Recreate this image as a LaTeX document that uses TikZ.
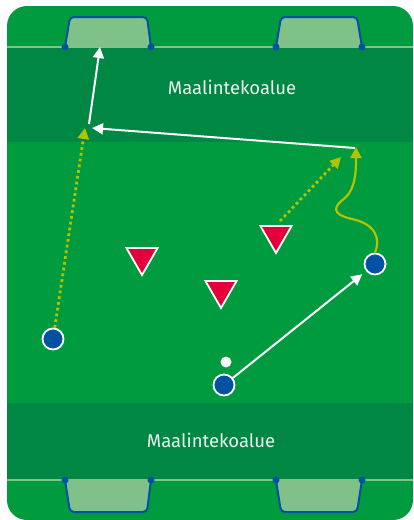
\documentclass[tikz,border=0pt]{standalone}
\usepackage{fontspec}
\setmainfont{Fira Sans}
\usetikzlibrary{arrows.meta,shapes.geometric}
\definecolor{field}{HTML}{009B3E}
\definecolor{darkzone}{HTML}{008744}
\definecolor{lineg}{HTML}{7CC68C}
\definecolor{goalfill}{HTML}{80C18A}
\definecolor{pblue}{HTML}{0051A2}
\definecolor{pred}{HTML}{E3003A}
\definecolor{pyellow}{HTML}{B2C400}
\definecolor{txt}{HTML}{EAF6EC}
\tikzset{
  player/.style={circle, fill=pblue, draw=white, line width=1.8pt, minimum size=21pt, inner sep=0pt},
  defender/.style={isosceles triangle, isosceles triangle apex angle=60, shape border rotate=270, fill=pred, draw=white, line width=1.8pt, minimum height=27pt, inner sep=0pt},
  ball/.style={circle, fill=white, minimum size=11pt, inner sep=0pt},
  pass/.style={draw=white, line width=2pt, -{Triangle[length=11pt,width=11pt]}},
  run/.style={draw=pyellow, line width=2.8pt, dash pattern=on 2.8pt off 3pt, -{Triangle[length=11pt,width=11pt]}},
  dribble/.style={draw=pyellow, line width=2.2pt, -{Triangle[length=11pt,width=11pt]}},
  goal/.style={fill=goalfill, draw=pblue, line width=2pt, rounded corners=4pt},
  post/.style={circle, fill=pblue, minimum size=7pt, inner sep=0pt},
  zonelabel/.style={text=txt, font=\fontsize{18.5}{22}\selectfont}
}
\begin{document}
\begin{tikzpicture}[x=1pt,y=-1pt]
\useasboundingbox (0,0) rectangle (413,520);
\fill[field, rounded corners=20pt] (7,6) rectangle (413,520);
\fill[darkzone] (7,48) rectangle (413,142);
\fill[darkzone] (7,403) rectangle (413,479);
\draw[lineg, line width=2.4pt] (7,46.8) -- (413,46.8);
\draw[lineg, line width=2.4pt] (7,480) -- (413,480);
% goals
\path[goal] (65,47) -- (70,17) -- (147,17) -- (151,47);
\path[goal] (276,47) -- (281,17) -- (357,17) -- (362,47);
\path[goal] (65,480) -- (70,512) -- (147,512) -- (151,480);
\path[goal] (276,480) -- (281,512) -- (357,512) -- (362,480);
\foreach \n/\x/\y in {a/65/47,b/151/47,c/276/47,d/362/47,e/65/480,f/151/480,g/276/480,h/362/480}
  \node[post] (post\n) at (\x,\y) {};
% labels
\node[zonelabel] (ztop) at (232,87) {Maalintekoalue};
\node[zonelabel] (zbot) at (211,440) {Maalintekoalue};
% defenders
\node[defender] (d1) at (142,257) {};
\node[defender] (d2) at (221,290) {};
\node[defender] (d3) at (276,235) {};
% players
\node[player] (p1) at (53,339) {};
\node[player] (p2) at (224,385) {};
\node[player] (p3) at (375,264) {};
\node[ball] (ball) at (226,362) {};
% coordinates
\coordinate (k1) at (85,128);
\coordinate (k1s) at (89,124);
\coordinate (g1) at (100,47);
\coordinate (k2s) at (355,148);
\coordinate (k2) at (92,128);
\coordinate (k3) at (341,157);
\coordinate (k3s) at (280,221);
% connectors
\draw[run] (p1) -- (k1);
\draw[pass] (k1s) -- (g1);
\draw[pass] (k2s) -- (k2);
\draw[pass, shorten >=5pt] (p2) -- (p3);
\draw[run] (k3s) -- (k3);
\draw[dribble] (p3.north) .. controls (381,238) and (375,224) .. (352,219)
  .. controls (330,214) and (334,206) .. (345,198)
  .. controls (356,188) and (356,170) .. (356,147);
\end{tikzpicture}
\end{document}
